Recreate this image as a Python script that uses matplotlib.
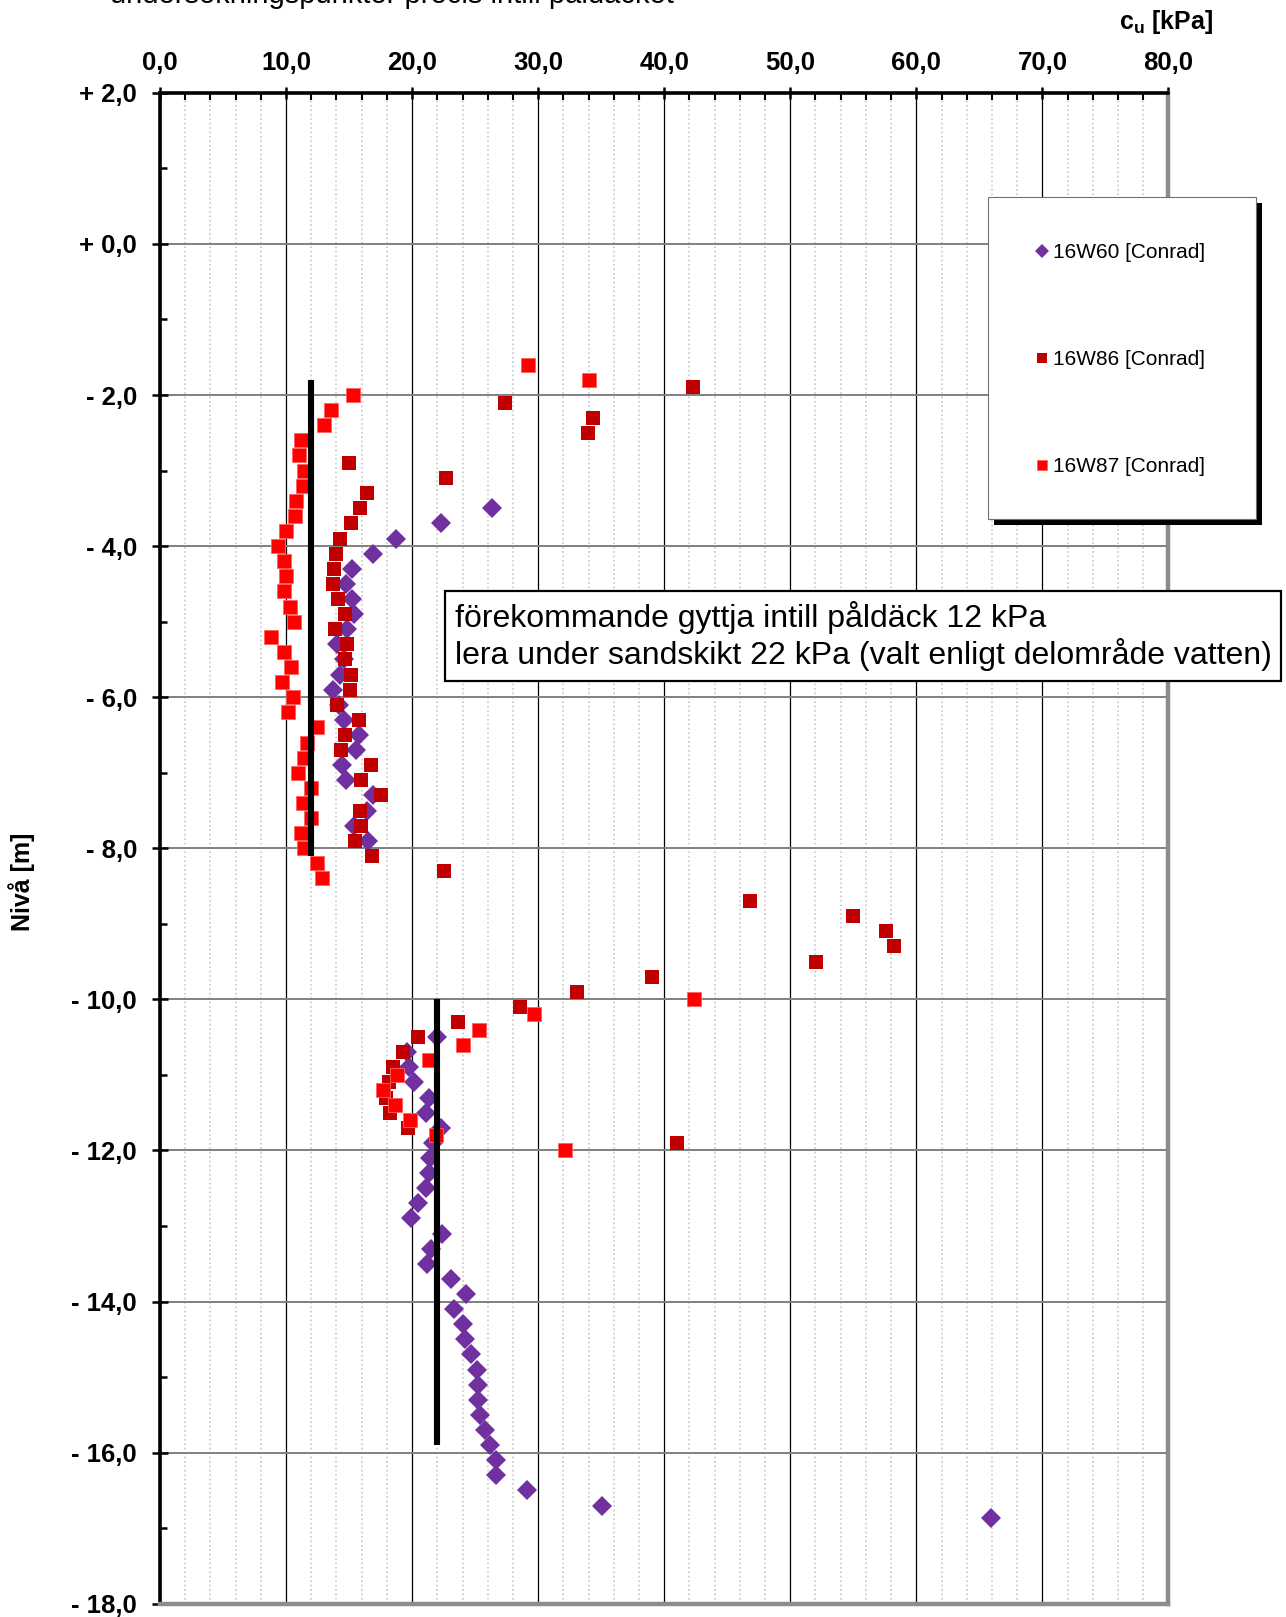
import matplotlib
matplotlib.use("Agg")
import matplotlib.pyplot as plt
from matplotlib.patches import Rectangle
from matplotlib.ticker import MultipleLocator, FixedLocator, FixedFormatter

plt.rcParams['font.family'] = ['Liberation Sans', 'DejaVu Sans']
plt.rcParams['mathtext.fontset'] = 'custom'
plt.rcParams['mathtext.rm'] = 'Liberation Sans'
plt.rcParams['mathtext.bf'] = 'Liberation Sans:bold'

# 16W60 [Conrad]  (cu kPa, level m)
w60_cu = [26.3, 22.3, 18.7, 16.9, 15.26, 14.79, 15.24, 15.37, 14.84, 14.05, 14.58,
          14.26, 13.7, 14.23, 14.58, 15.82, 15.56, 14.44, 14.76, 16.88, 16.43, 15.37,
          16.48,
          21.95, 19.58, 19.79, 20.16, 21.37, 21.08, 22.27, 21.69, 21.42, 21.35, 21.11,
          20.5, 19.89, 22.4, 21.53, 21.16, 23.06, 24.27, 23.32, 24.0, 24.2, 24.68,
          25.14, 25.23, 25.23, 25.36, 25.75, 26.2, 26.62, 26.66, 29.1, 35.09, 65.95]
w60_lvl = [-3.5, -3.7, -3.9, -4.1, -4.3, -4.5, -4.7, -4.9, -5.1, -5.3, -5.5,
           -5.7, -5.9, -6.1, -6.3, -6.5, -6.7, -6.9, -7.1, -7.3, -7.5, -7.7,
           -7.9,
           -10.5, -10.7, -10.9, -11.1, -11.3, -11.5, -11.7, -11.9, -12.1, -12.3, -12.5,
           -12.7, -12.9, -13.1, -13.3, -13.5, -13.7, -13.9, -14.1, -14.3, -14.5, -14.7,
           -14.9, -15.1, -15.3, -15.5, -15.7, -15.9, -16.1, -16.3, -16.5, -16.7, -16.87]

# 16W86 [Conrad]
w86_cu = [42.25, 27.4, 34.39, 33.99, 15.03, 22.7, 16.43, 15.9, 15.19, 14.31, 13.99,
          13.84, 13.76, 14.15, 14.71, 13.92, 14.84, 14.71, 15.16, 15.08, 14.07, 15.82,
          14.71, 14.39, 16.75, 15.95, 17.54, 15.9, 15.95, 15.5, 16.85, 22.57,
          46.83, 54.98, 57.6, 58.23, 52.05, 39.0, 33.06, 28.55, 23.61, 20.45, 19.26,
          18.47, 18.13, 17.92, 18.23, 19.66, 41.0]
w86_lvl = [-1.9, -2.1, -2.3, -2.5, -2.9, -3.1, -3.3, -3.5, -3.7, -3.9, -4.1,
           -4.3, -4.5, -4.7, -4.9, -5.1, -5.3, -5.5, -5.7, -5.9, -6.1, -6.3,
           -6.5, -6.7, -6.9, -7.1, -7.3, -7.5, -7.7, -7.9, -8.1, -8.3,
           -8.7, -8.9, -9.1, -9.3, -9.5, -9.7, -9.9, -10.1, -10.3, -10.5, -10.7,
           -10.9, -11.1, -11.3, -11.5, -11.7, -11.9]

# 16W87 [Conrad]
w87_cu = [29.2, 34.0, 15.31, 13.54, 13.02, 11.16, 11.03, 11.4, 11.32, 10.79, 10.69,
          9.97, 9.39, 9.81, 10.0, 9.81, 10.32, 10.6, 8.78, 9.87, 10.42, 9.68,
          10.56, 10.16, 12.46, 11.69, 11.4, 10.93, 11.96, 11.32, 11.96, 11.22, 11.4,
          12.46, 12.83,
          42.35, 29.68, 25.3, 24.06, 21.32, 18.84, 17.73, 18.65, 19.84, 21.87, 32.16]
w87_lvl = [-1.6, -1.8, -2.0, -2.2, -2.4, -2.6, -2.8, -3.0, -3.2, -3.4, -3.6,
           -3.8, -4.0, -4.2, -4.4, -4.6, -4.8, -5.0, -5.2, -5.4, -5.6, -5.8,
           -6.0, -6.2, -6.4, -6.6, -6.8, -7.0, -7.2, -7.4, -7.6, -7.8, -8.0,
           -8.2, -8.4,
           -10.0, -10.2, -10.4, -10.6, -10.8, -11.0, -11.2, -11.4, -11.6, -11.8, -12.0]

# chosen design values: cu, top level, bottom level
design_cu = [12, 22]
design_top = [-1.8, -10.0]
design_bot = [-8.1, -15.9]

x_ticks = [0, 10, 20, 30, 40, 50, 60, 70, 80]
x_labels = ['0,0', '10,0', '20,0', '30,0', '40,0', '50,0', '60,0', '70,0', '80,0']
y_ticks = [2, 0, -2, -4, -6, -8, -10, -12, -14, -16, -18]
y_labels = ['+ 2,0', '+ 0,0', '- 2,0', '- 4,0', '- 6,0', '- 8,0', '- 10,0',
            '- 12,0', '- 14,0', '- 16,0', '- 18,0']

fig = plt.figure(figsize=(12.86, 16.17), dpi=100)
ax = fig.add_axes([0.1244, 0.0082, 0.7842, 0.9344])

p1, = ax.plot(w60_cu, w60_lvl, 'D', color='#7030A0', ms=10.5, mew=0, zorder=3)
p2, = ax.plot(w86_cu, w86_lvl, 's', color='#C00000', ms=10, mew=0, zorder=3)
p3, = ax.plot(w87_cu, w87_lvl, 's', color='#FF0000', ms=10.5, mew=0.6,
              mec='#ff6060', zorder=3)
for c, t, b in zip(design_cu, design_top, design_bot):
    ax.plot([c, c], [t, b], color='black', lw=4.4, solid_capstyle='butt', zorder=4)

ax.set_xlim(0, 80)
ax.set_ylim(-18, 2)
ax.xaxis.tick_top()
ax.xaxis.set_major_locator(FixedLocator(x_ticks))
ax.xaxis.set_major_formatter(FixedFormatter(x_labels))
ax.xaxis.set_minor_locator(MultipleLocator(2))
ax.yaxis.set_major_locator(FixedLocator(y_ticks))
ax.yaxis.set_major_formatter(FixedFormatter(y_labels))
ax.yaxis.set_minor_locator(MultipleLocator(1))

ax.tick_params(axis='x', which='major', direction='inout', length=9, width=1.8,
               pad=8, labelsize=18.5)
ax.tick_params(axis='x', which='minor', direction='in', length=5, width=1.5)
ax.tick_params(axis='y', which='major', direction='inout', length=11, width=1.8,
               pad=11, labelsize=18.5)
ax.tick_params(axis='y', which='minor', direction='in', length=5, width=1.8)
for lab in ax.get_xticklabels() + ax.get_yticklabels():
    lab.set_fontweight('bold')

ax.grid(which='minor', axis='x', color='#c8c8c8', ls=':', lw=1.2)
ax.grid(which='major', axis='x', color='black', lw=0.9)
ax.grid(which='major', axis='y', color='#808080', lw=1.4)
ax.set_axisbelow(True)

ax.spines['left'].set_linewidth(2.6)
ax.spines['top'].set_linewidth(2.6)
ax.spines['right'].set_color('#8c8c8c')
ax.spines['right'].set_linewidth(3.2)
ax.spines['bottom'].set_color('#8c8c8c')
ax.spines['bottom'].set_linewidth(3.2)

ax.text(23.4, -5.19,
        'förekommande gyttja intill påldäck 12 kPa\n'
        'lera under sandskikt 22 kPa (valt enligt delområde vatten)',
        fontsize=23, ha='left', va='center', linespacing=1.15, zorder=6,
        bbox=dict(boxstyle='square,pad=0.3', fc='white', ec='black', lw=1.6))

# legend frame with shadow
fig.add_artist(Rectangle((0.7683 + 6 / 1286, 0.6790 - 6 / 1617), 0.2084, 0.1991,
                         transform=fig.transFigure, fc='black', ec='none', zorder=3))
fig.add_artist(Rectangle((0.7683, 0.6790), 0.2084, 0.1991,
                         transform=fig.transFigure, fc='white', ec='#707070',
                         lw=0.8, zorder=3.5))
fig.legend([p1, p2, p3], ['16W60 [Conrad]', '16W86 [Conrad]', '16W87 [Conrad]'],
           loc='upper left', bbox_to_anchor=(1032 / 1286, 1 - 243 / 1617),
           bbox_transform=fig.transFigure, frameon=False, fontsize=15,
           handlelength=1.0, handletextpad=0.0, borderpad=0, borderaxespad=0,
           labelspacing=4.22, markerscale=0.72)

fig.text(0.3048, 1 - 3 / 1617, 'undersökningspunkter precis intill påldäcket',
         fontsize=21, ha='center', va='baseline')
fig.text(1166 / 1286, 1 - 21.6 / 1617, r'$\mathbf{c_u}$ [kPa]', fontsize=18,
         fontweight='bold', ha='center', va='center')
fig.text(21.6 / 1286, 1 - 882 / 1617, 'Nivå [m]', fontsize=18, fontweight='bold',
         rotation=90, ha='center', va='center')

fig.savefig('out.png', dpi=100)
